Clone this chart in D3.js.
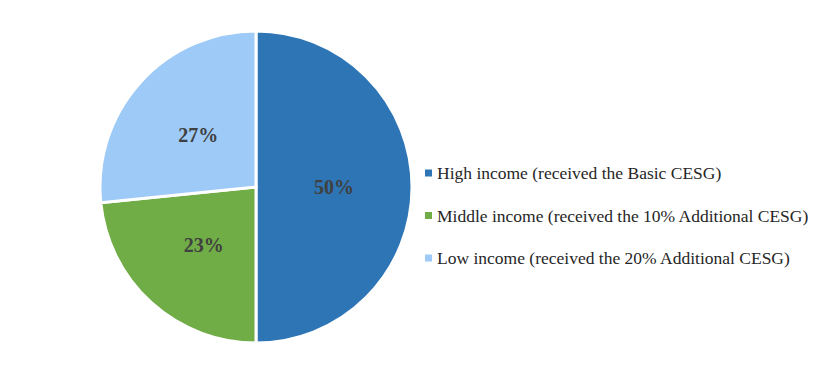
<!DOCTYPE html>
<html>
<head>
<meta charset="utf-8">
<script src="https://cdn.jsdelivr.net/npm/d3@7"></script>
<style>
  body { margin: 0; background: #fff; }
  svg { display: block; }
</style>
</head>
<body>
<div id="chart"></div>
<script>
// Chart data (shares; labels show rounded values)
const categories = [
    'High income (received the Basic CESG)',
    'Middle income (received the 10% Additional CESG)',
    'Low income (received the 20% Additional CESG)'
];
const shares = [50, 23.4, 26.6];
const colors = ['#2E75B6', '#70AD47', '#9DCAF7'];

const width = 829, height = 376;
const cx = 256, cy = 187, radius = 156;

const svg = d3.select('#chart').append('svg')
    .attr('width', width)
    .attr('height', height);

const data = categories.map((c, i) => ({ label: c, value: shares[i], color: colors[i] }));
const total = d3.sum(shares);
const pct = d3.format('.0%');

// keep the original order, clockwise from 12 o'clock
const pieGen = d3.pie().sort(null).value(d => d.value);
const arcGen = d3.arc().innerRadius(0).outerRadius(radius);
const labelArc = d3.arc().innerRadius(radius * 0.5).outerRadius(radius * 0.5);

const chart = svg.append('g').attr('transform', `translate(${cx},${cy})`);

chart.selectAll('path.arc')
    .data(pieGen(data))
    .join('path')
    .classed('arc', true)
    .attr('d', arcGen)
    .attr('fill', d => d.data.color)
    .attr('stroke', '#fff')
    .attr('stroke-width', 3);

chart.selectAll('text.label')
    .data(pieGen(data))
    .join('text')
    .classed('label', true)
    .attr('transform', d => `translate(${labelArc.centroid(d)})`)
    .attr('text-anchor', 'middle')
    .attr('dy', '0.35em')
    .attr('font-family', '"Liberation Serif", serif')
    .attr('font-weight', 'bold')
    .attr('font-size', 20)
    .attr('fill', '#404040')
    .text(d => pct(d.data.value / total));

// Legend
const legendY = d3.scalePoint().domain(categories).range([173, 258]);
const legend = svg.append('g').selectAll('g')
    .data(data)
    .join('g')
    .attr('transform', d => `translate(425,${legendY(d.label)})`);

legend.append('rect')
    .attr('x', 0).attr('y', -3.5)
    .attr('width', 7).attr('height', 7)
    .attr('fill', d => d.color);

legend.append('text')
    .attr('x', 12)
    .attr('dy', '0.35em')
    .attr('font-family', '"Liberation Serif", serif')
    .attr('font-size', 17.5)
    .attr('fill', '#262626')
    .text(d => d.label);
</script>
</body>
</html>
